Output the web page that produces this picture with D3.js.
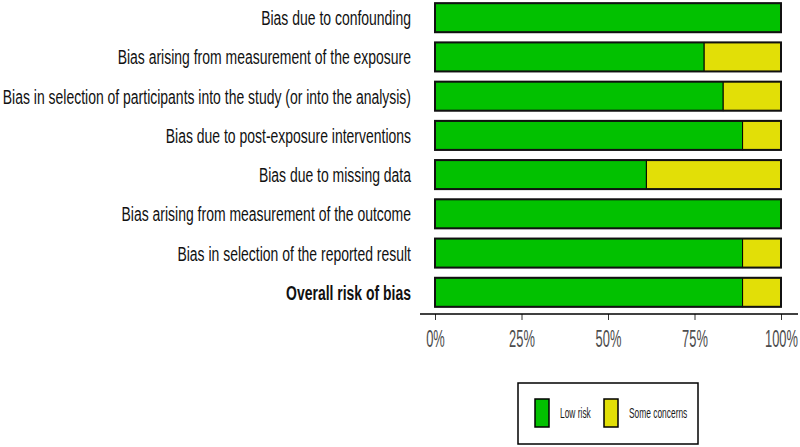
<!DOCTYPE html>
<html>
<head>
<meta charset="utf-8">
<script src="https://cdn.jsdelivr.net/npm/d3@7"></script>
<style>
  body { margin: 0; background: #fff; }
  svg { display: block; font-family: "Liberation Sans", Arial, sans-serif; }
</style>
</head>
<body>
<svg width="800" height="447"></svg>
<script>
// risk of bias summary, proportions of 18 studies
var domains = [
  "Bias due to confounding",
  "Bias arising from measurement of the exposure",
  "Bias in selection of participants into the study (or into the analysis)",
  "Bias due to post-exposure interventions",
  "Bias due to missing data",
  "Bias arising from measurement of the outcome",
  "Bias in selection of the reported result",
  "Overall risk of bias"
]
var lowRisk = [1, 0.778, 0.833, 0.889, 0.611, 1, 0.889, 0.889]
var someConcerns = [0, 0.222, 0.167, 0.111, 0.389, 0, 0.111, 0.111]
var tickValues = [0, 0.25, 0.5, 0.75, 1]
var keys = ["Low risk", "Some concerns"]
var colors = ["#02C100", "#E2DF07"]

var svg = d3.select("svg")

// the original figure is squeezed sideways, so text gets a narrow scale
var squeeze = 0.665

var rows = domains.map(function(d, i) {
  return {domain: d, "Low risk": lowRisk[i], "Some concerns": someConcerns[i]}
})

var xScale = d3.scaleLinear()
  .domain([0, 1])
  .range([435, 781])

var yScale = d3.scaleBand()
  .domain(domains)
  .range([-7, 317])
  .padding(0.26)

var color = d3.scaleOrdinal().domain(keys).range(colors)

var stacked = d3.stack().keys(keys)(rows)

svg.append("g")
  .selectAll("g")
  .data(stacked)
  .enter()
  .append("g")
  .attr("fill", function(s) { return color(s.key) })
  .selectAll("rect")
  .data(function(s) { return s })
  .enter()
  .filter(function(d) { return d[1] - d[0] > 0 })
  .append("rect")
  .attr("x", function(d) { return xScale(d[0]) })
  .attr("y", function(d) { return yScale(d.data.domain) })
  .attr("width", function(d) { return xScale(d[1]) - xScale(d[0]) })
  .attr("height", yScale.bandwidth())
  .attr("stroke", "#000")
  .attr("stroke-width", 1)

// thick outline round each bar
svg.append("g")
  .selectAll("rect")
  .data(domains)
  .enter()
  .append("rect")
  .attr("x", xScale(0))
  .attr("y", function(d) { return yScale(d) })
  .attr("width", xScale(1) - xScale(0))
  .attr("height", yScale.bandwidth())
  .attr("fill", "none")
  .attr("stroke", "#111")
  .attr("stroke-width", 2)

// domain labels
svg.append("g")
  .selectAll("text")
  .data(domains)
  .enter()
  .append("text")
  .attr("transform", function(d) {
    return "translate(411," + (yScale(d) + yScale.bandwidth() / 2) + ") scale(" + squeeze + ",1)"
  })
  .attr("dy", "0.36em")
  .attr("text-anchor", "end")
  .attr("font-size", 21)
  .attr("font-weight", function(d, i) { return i == domains.length - 1 ? "bold" : "normal" })
  .attr("fill", "#111")
  .text(function(d) { return d })

// x axis
var xAxis = d3.axisBottom(xScale)
  .tickValues(tickValues)
  .tickFormat(d3.format(".0%"))
  .tickSize(6)
  .tickPadding(0)

var axisG = svg.append("g")
  .attr("transform", "translate(0,314)")
  .call(xAxis)

axisG.select(".domain").remove()
axisG.append("line")
  .attr("x1", 420).attr("x2", 798)
  .attr("stroke", "#000").attr("stroke-width", 1.5)
axisG.selectAll(".tick line").attr("stroke", "#333")
axisG.selectAll(".tick text")
  .attr("font-size", 23)
  .attr("fill", "#4d4d4d")
  .attr("dy", null)
  .attr("y", null)
  .attr("transform", "translate(0,33) scale(0.56,1)")

// legend
var legend = svg.append("g")
legend.append("rect")
  .attr("x", 518).attr("y", 383)
  .attr("width", 180).attr("height", 61)
  .attr("fill", "#fff").attr("stroke", "#000").attr("stroke-width", 1.5)

var item = legend.selectAll("g.item")
  .data(keys)
  .enter()
  .append("g")
  .attr("class", "item")
  .attr("transform", function(d, i) { return "translate(" + (535 + i * 69) + ",399)" })

item.append("rect")
  .attr("width", 14).attr("height", 28)
  .attr("fill", function(d) { return color(d) })
  .attr("stroke", "#000").attr("stroke-width", 1.5)

item.append("text")
  .attr("transform", "translate(25,14) scale(0.6,1)")
  .attr("dy", "0.36em")
  .attr("font-size", 14)
  .attr("fill", "#1a1a1a")
  .text(function(d) { return d })
</script>
</body>
</html>
